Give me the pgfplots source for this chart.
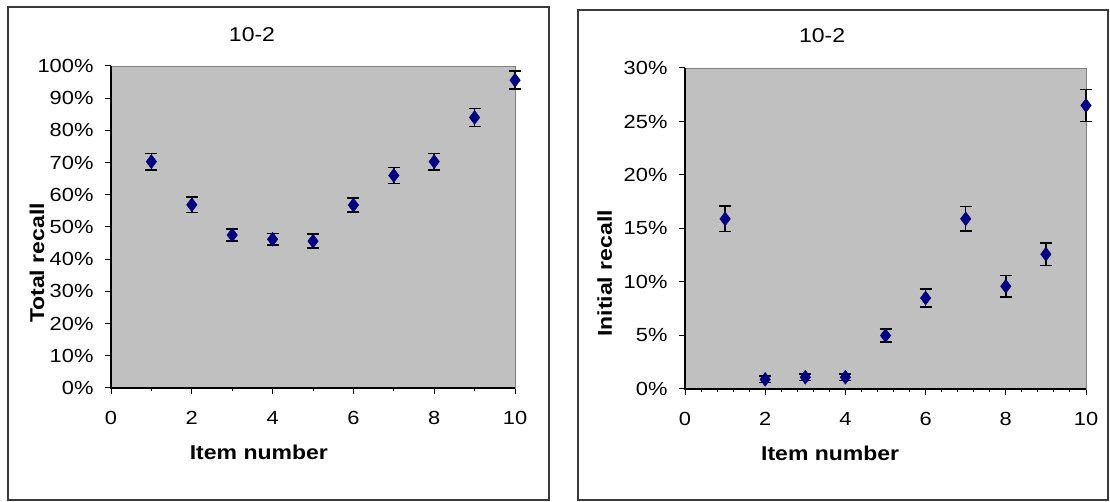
\documentclass[border=0pt]{standalone}
\usepackage{fontspec}
\setmainfont[FakeStretch=1.15]{Liberation Sans}
\usepackage{pgfplots}
\pgfplotsset{compat=1.18}
\definecolor{plotgray}{HTML}{C0C0C0}
\definecolor{navy}{HTML}{000080}
\definecolor{framecol}{HTML}{3A3A3A}
\definecolor{bordergray}{HTML}{808080}

\pgfplotstableread{
x y e
1 70.3 2.6
2 56.9 2.4
3 47.5 1.8
4 46.2 1.8
5 45.6 2.2
6 56.8 2.2
7 66.0 2.5
8 70.3 2.6
9 84.0 2.8
10 95.6 2.8
}\totaldata

\pgfplotstableread{
x y e
1 15.9 1.2
2 0.9 0.3
3 1.1 0.3
4 1.1 0.3
5 5.0 0.6
6 8.5 0.85
7 15.9 1.15
8 9.6 1.0
9 12.6 1.05
10 26.5 1.5
}\initialdata

\pgfplotsset{
  excel/.style={
    scale only axis,
    axis background/.style={fill=plotgray},
    axis line style={draw=bordergray, line width=0.8pt},
    xmin=0, xmax=10,
    xtick={0,2,4,6,8,10},
    xticklabels={0,2,4,6,8,10},
    tick align=outside,
    xtick pos=bottom, ytick pos=left,
    major tick length=6pt,
    minor tick length=3pt,
    every tick/.style={black, line width=1pt},
    /pgf/number format/assume math mode=true,
    ticklabel style={font=\fontsize{19}{22}\selectfont},
    yticklabel style={anchor=east, xshift=-8pt},
    xticklabel style={anchor=north, yshift=-14pt},
    label style={font=\fontsize{20}{24}\selectfont\bfseries},
    title style={font=\fontsize{20}{24}\selectfont, anchor=center},
    after end axis/.code={
      \draw[black, line width=1.3pt] (rel axis cs:0,1) -- (rel axis cs:0,0) -- (rel axis cs:1,0);
    },
    clip=false,
  },
  errplot/.style={
    only marks,
    mark=diamond*,
    mark size=7pt,
    mark options={fill=navy, draw=navy},
    error bars/.cd,
      y dir=both, y explicit,
      error bar style={black, line width=1.5pt},
      error mark options={rotate=90, mark size=6pt, black, line width=1.5pt},
  },
}

\begin{document}
\begin{tikzpicture}[x=1pt,y=1pt]
\path[use as bounding box] (0,0) rectangle (1110,502);
% frames
\draw[framecol, line width=2pt] (8,2) rectangle (549,495);
\draw[framecol, line width=2pt] (578,2) rectangle (1108,492);

\begin{axis}[excel,
  at={(111pt,114pt)}, anchor=south west,
  width=404pt, height=322pt,
  ymin=0, ymax=100,
  ytick={0,10,...,100},
  yticklabels={0\%,10\%,20\%,30\%,40\%,50\%,60\%,70\%,80\%,90\%,100\%},
  minor x tick num=1,
  title={10-2},
  title style={at={(axis description cs:0.349,1.078)}},
  xlabel={Item number},
  xlabel style={at={(axis description cs:0.366,-0.199)}, anchor=center},
  ylabel={Total recall},
  ylabel style={at={(axis description cs:-0.183,0.388)}, anchor=center, rotate=0},
]
\addplot+[errplot] table[x=x, y=y, y error=e] {\totaldata};
\end{axis}

\begin{axis}[excel,
  at={(685pt,113pt)}, anchor=south west,
  width=401pt, height=321pt,
  ymin=0, ymax=30,
  ytick={0,5,...,30},
  yticklabels={0\%,5\%,10\%,15\%,20\%,25\%,30\%},
  minor x tick num=4,
  title={10-2},
  title style={at={(axis description cs:0.342,1.081)}},
  xlabel={Item number},
  xlabel style={at={(axis description cs:0.362,-0.2)}, anchor=center},
  ylabel={Initial recall},
  ylabel style={at={(axis description cs:-0.2,0.36)}, anchor=center, rotate=0},
]
\addplot+[errplot] table[x=x, y=y, y error=e] {\initialdata};
\end{axis}
\end{tikzpicture}
\end{document}
